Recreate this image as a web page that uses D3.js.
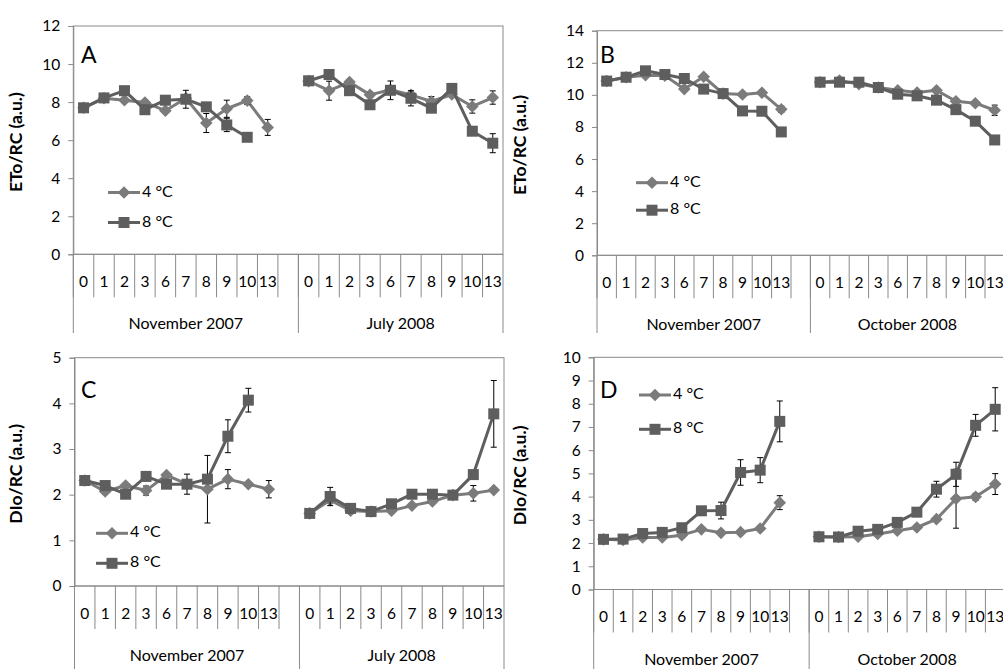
<!DOCTYPE html>
<html><head><meta charset="utf-8">
<script src="https://cdn.jsdelivr.net/npm/d3@7"></script>
<style>
body{margin:0;background:#fff}
svg{display:block}
text{font-family:Lato,"Open Sans","Noto Sans",sans-serif}
</style>
</head><body>
<svg id="chart" width="1003" height="669"></svg>
<script>
// ---------- data ----------
const days = ["0","1","2","3","6","7","8","9","10","13"];
const seriesNames = ["4 °C","8 °C"];
const groupsA = ["November 2007","July 2008"];
const groupsB = ["November 2007","October 2008"];

// Panel A  (ETo/RC)
const A_4C_nov = [7.7, 8.2, 8.1, 7.98, 7.55, 8.2, 6.9, 7.65, 8.08, 6.67];
const A_8C_nov = [7.7, 8.22, 8.6, 7.6, 8.1, 8.15, 7.75, 6.8, 6.15, null];
const A_4C_jul = [9.1, 8.6, 9.05, 8.38, 8.65, 8.38, 8.03, 8.4, 7.77, 8.24];
const A_8C_jul = [9.12, 9.45, 8.6, 7.86, 8.62, 8.2, 7.68, 8.72, 6.47, 5.84];
const A_4C_nov_err = [0, 0, 0, 0.15, 0, 0, 0.5, 0.45, 0.2, 0.42];
const A_8C_nov_err = [0, 0, 0, 0, 0, 0.47, 0, 0.35, 0, null];
const A_4C_jul_err = [0, 0.5, 0, 0, 0, 0, 0.26, 0, 0.35, 0.35];
const A_8C_jul_err = [0, 0, 0, 0, 0.49, 0.4, 0, 0, 0, 0.5];

// Panel B  (ETo/RC)
const B_4C_nov = [10.86, 11.1, 11.23, 11.2, 10.36, 11.13, 10.08, 10.02, 10.13, 9.1];
const B_8C_nov = [10.86, 11.1, 11.5, 11.27, 11.02, 10.36, 10.08, 9.0, 8.98, 7.69];
const B_4C_oct = [10.79, 10.9, 10.67, 10.46, 10.29, 10.15, 10.29, 9.6, 9.48, 9.04];
const B_8C_oct = [10.79, 10.79, 10.79, 10.46, 10.04, 9.94, 9.67, 9.08, 8.36, 7.19];
const B_4C_nov_err = [0, 0, 0, 0, 0, 0, 0, 0, 0, 0.2];
const B_8C_nov_err = [0, 0, 0, 0, 0, 0, 0, 0, 0, 0];
const B_4C_oct_err = [0, 0, 0, 0, 0, 0, 0, 0, 0, 0.32];
const B_8C_oct_err = [0, 0, 0, 0, 0, 0, 0, 0, 0, 0];

// Panel C  (DIo/RC)
const C_4C_nov = [2.31, 2.07, 2.2, 2.09, 2.43, 2.23, 2.12, 2.34, 2.23, 2.12];
const C_8C_nov = [2.31, 2.2, 2.01, 2.4, 2.23, 2.23, 2.34, 3.28, 4.07, null];
const C_4C_jul = [1.59, 1.88, 1.65, 1.63, 1.65, 1.76, 1.85, 1.99, 2.03, 2.1];
const C_8C_jul = [1.59, 1.96, 1.7, 1.63, 1.8, 2.01, 2.01, 1.99, 2.44, 3.77];
const C_4C_nov_err = [0, 0, 0, 0.1, 0, 0, 0.74, 0.21, 0, 0.19];
const C_8C_nov_err = [0, 0, 0, 0, 0, 0.22, 0, 0.36, 0.26, null];
const C_4C_jul_err = [0, 0, 0, 0, 0, 0, 0, 0, 0.17, 0];
const C_8C_jul_err = [0, 0.2, 0.1, 0, 0, 0.05, 0, 0, 0, 0.73];

// Panel D  (DIo/RC)
const D_4C_nov = [2.16, 2.13, 2.24, 2.24, 2.34, 2.59, 2.44, 2.47, 2.63, 3.74];
const D_8C_nov = [2.16, 2.17, 2.41, 2.46, 2.66, 3.39, 3.4, 5.04, 5.14, 7.24];
const D_4C_oct = [2.27, 2.26, 2.27, 2.39, 2.53, 2.67, 3.03, 3.91, 3.99, 4.54];
const D_8C_oct = [2.27, 2.26, 2.51, 2.59, 2.89, 3.33, 4.32, 4.96, 7.07, 7.76];
const D_4C_nov_err = [0, 0, 0, 0, 0, 0, 0, 0, 0, 0.3];
const D_8C_nov_err = [0, 0, 0, 0, 0, 0, 0.36, 0.55, 0.54, 0.88];
const D_4C_oct_err = [0, 0, 0, 0, 0, 0, 0, 1.27, 0.15, 0.45];
const D_8C_oct_err = [0, 0, 0, 0, 0, 0, 0.34, 0.52, 0.47, 0.93];

// ---------- layout ----------
const col4 = "#7b7b7b", col8 = "#5e5e5e", axisCol = "#8a8a8a";
const panels = [
  {letter:"A", title:"ETo/RC (a.u.)", groups:groupsA,
   s4:[A_4C_nov,A_4C_jul], s8:[A_8C_nov,A_8C_jul], e4:[A_4C_nov_err,A_4C_jul_err], e8:[A_8C_nov_err,A_8C_jul_err],
   yMax:12, yStep:2, l:73.3, r:503, t:26, b:254.3, titleX:18, bottom:333,
   leg:{x:108, y:192.5, dy:30}, let:{x:81, y:63}},
  {letter:"B", title:"ETo/RC (a.u.)", groups:groupsB,
   s4:[B_4C_nov,B_4C_oct], s8:[B_8C_nov,B_8C_oct], e4:[B_4C_nov_err,B_4C_oct_err], e8:[B_8C_nov_err,B_8C_oct_err],
   yMax:14, yStep:2, l:597, r:1004.4, t:30.7, b:255.3, titleX:522, bottom:333,
   leg:{x:636, y:182.7, dy:27.5}, let:{x:600, y:63}},
  {letter:"C", title:"DIo/RC (a.u.)", groups:groupsA,
   s4:[C_4C_nov,C_4C_jul], s8:[C_8C_nov,C_8C_jul], e4:[C_4C_nov_err,C_4C_jul_err], e8:[C_8C_nov_err,C_8C_jul_err],
   yMax:5, yStep:1, l:74.5, r:504, t:357.7, b:586, titleX:18, bottom:669,
   leg:{x:96, y:533.3, dy:30}, let:{x:81, y:398}},
  {letter:"D", title:"DIo/RC (a.u.)", groups:groupsB,
   s4:[D_4C_nov,D_4C_oct], s8:[D_8C_nov,D_8C_oct], e4:[D_4C_nov_err,D_4C_oct_err], e8:[D_8C_nov_err,D_8C_oct_err],
   yMax:10, yStep:1, l:593.7, r:1005, t:357.3, b:589.5, titleX:522, bottom:669,
   leg:{x:639, y:395, dy:34.3}, let:{x:600, y:397.5}}
];

const svg = d3.select("#chart");

function diamondPath(cx, cy, r){ return `M${cx},${cy-r}L${cx+r},${cy}L${cx},${cy+r}L${cx-r},${cy}Z`; }

function drawMarker(g, shape, cx, cy, color){
  if(shape === "sq"){
    g.append("rect").attr("x", cx-5.5).attr("y", cy-5.5).attr("width", 11).attr("height", 11).attr("fill", color);
  } else {
    g.append("path").attr("d", diamondPath(cx, cy, 6.3)).attr("fill", color);
  }
}

panels.forEach(p => {
  const g = svg.append("g");
  const keys = [];
  p.groups.forEach((grp, gi) => {
    days.forEach(d => keys.push(gi + "|" + d));
    if (gi === 0) keys.push("gap");
  });
  const x = d3.scaleBand().domain(keys).range([p.l, p.r]).padding(0);
  const y = d3.scaleLinear().domain([0, p.yMax]).range([p.b, p.t]);
  const step = x.step();

  g.append("rect").attr("x", p.l).attr("y", p.t).attr("width", p.r - p.l).attr("height", p.b - p.t)
    .attr("fill", "none").attr("stroke", axisCol).attr("stroke-width", 1);

  const yAxis = d3.axisLeft(y).tickValues(d3.range(0, p.yMax + p.yStep/2, p.yStep)).tickSize(5).tickPadding(8).tickFormat(d3.format("d"));
  const ya = g.append("g").attr("transform", `translate(${p.l},0)`).call(yAxis);
  ya.select(".domain").attr("stroke", axisCol);
  ya.selectAll(".tick line").attr("stroke", axisCol);
  ya.selectAll("text").attr("font-size", 15.5).attr("fill", "#000").attr("font-family", "Lato,'Open Sans',sans-serif");

  const xAxis = d3.axisBottom(x).tickSize(0).tickPadding(0).tickFormat(k => k === "gap" ? "" : k.split("|")[1]);
  const xa = g.append("g").attr("transform", `translate(0,${p.b})`).call(xAxis);
  xa.select(".domain").remove();
  xa.selectAll("text").attr("font-size", 15.5).attr("fill", "#000").attr("dy", null).attr("y", 29)
    .attr("dominant-baseline", "middle").attr("font-family", "Lato,'Open Sans',sans-serif");

  g.append("line").attr("x1", p.l).attr("x2", p.r).attr("y1", p.b).attr("y2", p.b).attr("stroke", axisCol);
  keys.forEach(k => {
    const bx = x(k);
    g.append("line").attr("x1", bx).attr("x2", bx).attr("y1", p.b).attr("y2", p.b + 43).attr("stroke", axisCol);
  });
  const firstKey = keys[0], gapIdx = keys.indexOf("gap");
  const divs = [x(firstKey), x(keys[gapIdx + 1]), p.r];
  divs.forEach(dx => g.append("line").attr("x1", dx).attr("x2", dx).attr("y1", p.b).attr("y2", p.bottom).attr("stroke", axisCol));
  p.groups.forEach((grp, gi) => {
    const x0 = gi === 0 ? x(firstKey) : x(keys[gapIdx + 1]);
    const x1 = gi === 0 ? x(keys[gapIdx + 1]) : p.r;
    g.append("text").attr("x", (x0 + x1)/2).attr("y", p.b + 71).attr("text-anchor", "middle")
      .attr("dominant-baseline", "middle").attr("font-size", 16).text(grp);
  });

  g.append("text").attr("transform", `translate(${p.titleX},${(p.t + p.b)/2 + 2}) rotate(-90)`)
    .attr("text-anchor", "middle").attr("dominant-baseline", "middle")
    .attr("font-size", 17.5).attr("font-weight", "bold").text(p.title);

  g.append("text").attr("x", p.let.x).attr("y", p.let.y).attr("font-size", 23).text(p.letter);

  const buildPts = (vals, errs) => {
    const pts = [];
    keys.forEach(k => {
      if (k === "gap") { pts.push({k, v:null, e:0}); return; }
      const [gi, d] = k.split("|");
      const idx = days.indexOf(d);
      pts.push({k, v: vals[+gi][idx], e: errs[+gi][idx] || 0});
    });
    return pts;
  };
  const line = d3.line().defined(d => d.v !== null && d.v !== undefined)
    .x(d => x(d.k) + step/2).y(d => y(d.v));

  const sets = [
    {pts: buildPts(p.s4, p.e4), color: col4, shape: "di"},
    {pts: buildPts(p.s8, p.e8), color: col8, shape: "sq"}
  ];
  sets.forEach(s => {
    const sg = g.append("g");
    sg.append("path").datum(s.pts).attr("d", line).attr("fill", "none")
      .attr("stroke", s.color).attr("stroke-width", 3).attr("stroke-linejoin", "round");
    s.pts.filter(d => d.v !== null && d.v !== undefined && d.e > 0).forEach(d => {
      const cx = x(d.k) + step/2;
      const y1 = y(d.v + d.e), y2 = y(d.v - d.e);
      sg.append("line").attr("x1", cx).attr("x2", cx).attr("y1", y1).attr("y2", y2).attr("stroke", "#000").attr("stroke-width", 1);
      [y1, y2].forEach(yy => sg.append("line").attr("x1", cx - 3).attr("x2", cx + 3).attr("y1", yy).attr("y2", yy).attr("stroke", "#000").attr("stroke-width", 1));
    });
    s.pts.filter(d => d.v !== null && d.v !== undefined).forEach(d => drawMarker(sg, s.shape, x(d.k) + step/2, y(d.v), s.color));
  });

  sets.forEach((s, i) => {
    const ly = p.leg.y + i * p.leg.dy;
    g.append("line").attr("x1", p.leg.x).attr("x2", p.leg.x + 32).attr("y1", ly).attr("y2", ly)
      .attr("stroke", s.color).attr("stroke-width", 3);
    drawMarker(g, s.shape, p.leg.x + 16, ly, s.color);
    g.append("text").attr("x", p.leg.x + 34).attr("y", ly).attr("dominant-baseline", "middle")
      .attr("font-size", 16).text(seriesNames[i]);
  });
});
</script>
</body></html>
